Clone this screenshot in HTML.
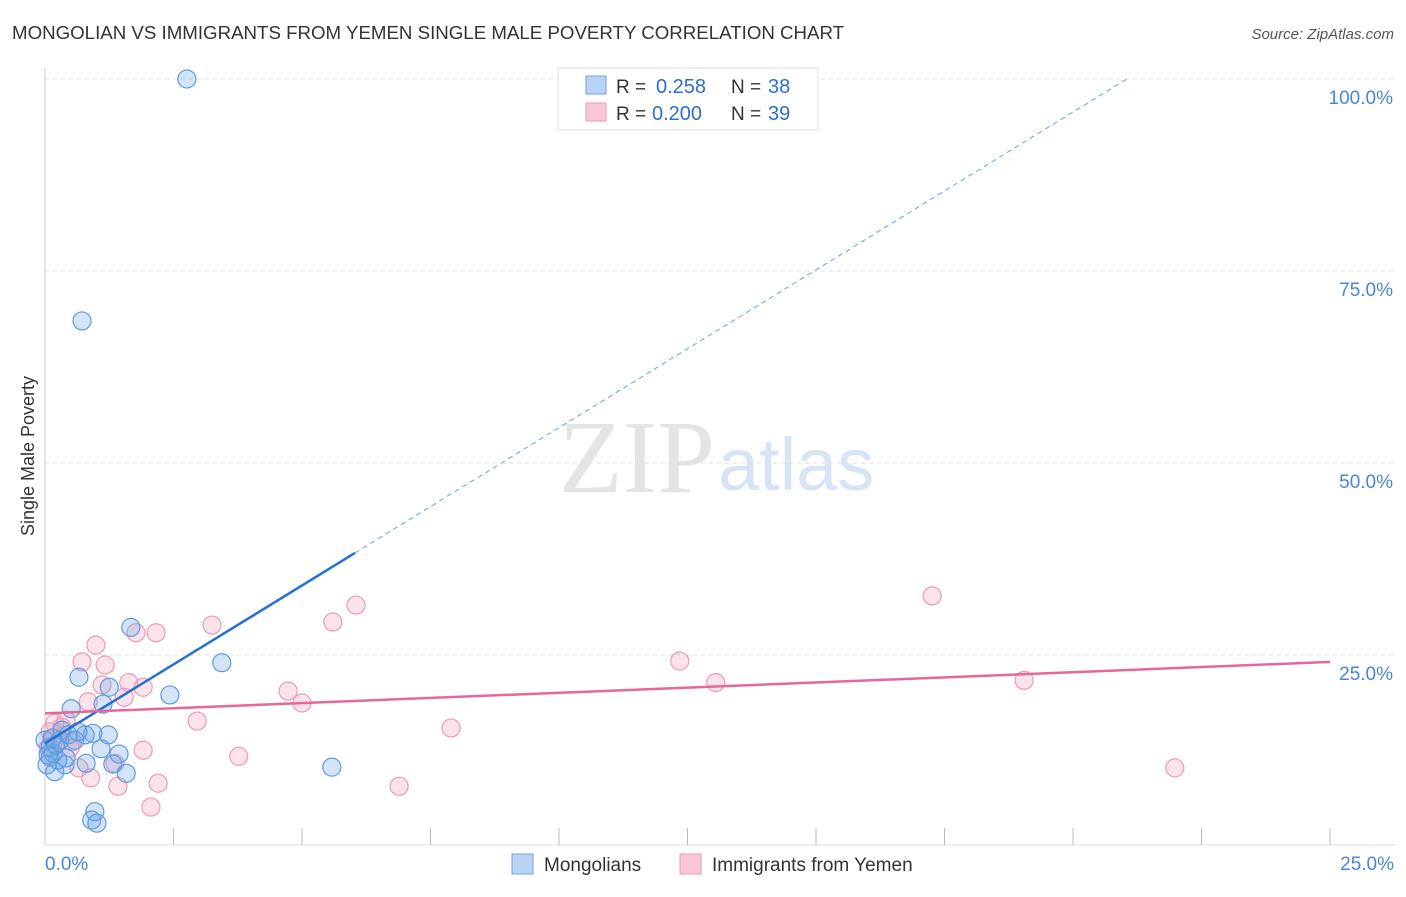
<!DOCTYPE html>
<html><head><meta charset="utf-8"><style>
body{margin:0;background:#fff;font-family:"Liberation Sans",sans-serif}
</style></head><body>
<svg width="1406" height="892" xmlns="http://www.w3.org/2000/svg" style="font-family:'Liberation Sans',sans-serif">
<text x="12" y="39" font-size="18.7" fill="#333">MONGOLIAN VS IMMIGRANTS FROM YEMEN SINGLE MALE POVERTY CORRELATION CHART</text>
<text x="1394" y="39" font-size="15" fill="#555" text-anchor="end" font-style="italic">Source: ZipAtlas.com</text>
<text x="715" y="492" font-size="104" fill="#e4e4e4" text-anchor="end" font-family="Liberation Serif">ZIP</text>
<text x="718" y="490" font-size="74" fill="#d6e4f5">atlas</text>
<text transform="translate(34,456) rotate(-90)" font-size="18" fill="#333" text-anchor="middle">Single Male Poverty</text>
<g id="grid"></g><g id="pts"></g><g id="lines"></g>
<g>
<rect x="558" y="68" width="260" height="62" fill="#fff" stroke="#ddd"/>
<rect x="586" y="76" width="20" height="18" fill="#b8d3f5" stroke="#6fa3e0"/>
<text x="616" y="93" font-size="19" fill="#333">R =</text>
<text x="656" y="93" font-size="20" fill="#2b6fd0">0.258</text>
<text x="731" y="93" font-size="19" fill="#333">N =</text>
<text x="768" y="93" font-size="20" fill="#2b6fd0">38</text>
<rect x="586" y="103" width="20" height="18" fill="#f9c7d6" stroke="#ea98b3"/>
<text x="616" y="120" font-size="19" fill="#333">R =</text>
<text x="652" y="120" font-size="20" fill="#2b6fd0">0.200</text>
<text x="731" y="120" font-size="19" fill="#333">N =</text>
<text x="768" y="120" font-size="20" fill="#2b6fd0">39</text>
</g>
<g>
<rect x="512" y="854" width="21" height="20" fill="#b8d3f5" stroke="#6fa3e0"/>
<text x="544" y="871" font-size="19" fill="#333">Mongolians</text>
<rect x="680" y="854" width="21" height="20" fill="#f9c7d6" stroke="#ea98b3"/>
<text x="712" y="871" font-size="19" fill="#333">Immigrants from Yemen</text>
</g>
</svg>
<script>
const mongX=[2.76,0.72,1.67,0.66,1.25,2.43,1.13,0.51,3.44,1.23,0.93,0.78,0.64,1.09,1.44,0.80,1.32,1.58,0.19,0.39,0.16,0.10,0.29,0.33,5.58,0.97,0.91,1.01,0.10,0.25,0.06,0.41,0.21,0.00,0.45,0.04,0.58,0.14];
const mongY=[100,68.5,28.6,22.1,20.8,19.8,18.6,18.0,24.0,14.6,14.8,14.6,15.0,12.8,12.1,10.9,10.8,9.6,9.8,10.7,12.2,13.0,13.9,15.2,10.4,4.6,3.5,3.1,11.7,11.3,12.0,11.6,13.3,13.9,14.6,10.7,13.9,14.2];
const yemX=[1.77,2.16,3.25,5.60,6.05,0.99,0.72,1.17,1.11,1.63,1.91,1.54,0.84,4.73,5.00,2.96,3.77,1.91,1.36,0.66,0.89,1.42,2.20,2.06,0.53,0.19,0.33,0.16,7.90,6.89,12.35,13.05,17.26,19.05,21.98,0.06,0.41,0.49,0.10];
const yemY=[27.9,27.9,28.9,29.3,31.5,26.3,24.1,23.7,21.1,21.4,20.8,19.5,18.9,20.3,18.75,16.4,11.8,12.6,10.9,10.3,9.0,7.9,8.3,5.2,13.7,16.1,15.6,14.2,15.5,7.9,24.2,21.4,32.7,21.7,10.3,12.9,16.5,12.9,15.0];
const yTicks=[25,50,75,100];
const yTickLabels=["25.0%","50.0%","75.0%","100.0%"];
const xTicks=[2.5,5,7.5,10,12.5,15,17.5,20,22.5,25];
const mongTrend=[13.5,4.11];
const yemTrend=[17.4,0.268];
const NS="http://www.w3.org/2000/svg";
const sx=v=>45+v*51.4, sy=v=>847-v*7.68;
function mk(t,a,p){const e=document.createElementNS(NS,t);for(const k in a)e.setAttribute(k,a[k]);p.appendChild(e);return e;}
const g=document.getElementById('grid');
mk('line',{x1:45,y1:68,x2:45,y2:845,stroke:'#ccc'},g);
mk('line',{x1:45,y1:845,x2:1395,y2:845,stroke:'#ddd'},g);
yTicks.forEach((v,i)=>{
 const l=mk('line',{x1:45,y1:sy(v),x2:1395,y2:sy(v),stroke:'#ddd','stroke-dasharray':'4,4'},g);
 
 
 const t=mk('text',{x:1393,y:sy(v)+25,'font-size':19,fill:'#4a86d8','text-anchor':'end'},g);
 t.textContent=yTickLabels[i];
 
 
});
xTicks.forEach(v=>{
 const l=mk('line',{x1:sx(v),y1:828,x2:sx(v),y2:845,stroke:'#bbb'},g);
 
 
});
let t=mk('text',{x:45,y:870,'font-size':19,fill:'#4a86d8'},g);t.textContent="0.0%";


t=mk('text',{x:1394,y:870,'font-size':19,fill:'#4a86d8','text-anchor':'end'},g);t.textContent="25.0%";


const p=document.getElementById('pts');
yemX.forEach((x,i)=>{const c=mk('circle',{cx:sx(x),cy:sy(yemY[i]),r:9,fill:'rgba(244,160,188,0.3)',stroke:'#eb9ab5','stroke-width':1.2},p);
 
 });
mongX.forEach((x,i)=>{const c=mk('circle',{cx:sx(x),cy:sy(mongY[i]),r:9,fill:'rgba(110,165,230,0.3)',stroke:'#5e9ae0','stroke-width':1.2},p);
 
 });
const L=document.getElementById('lines');
const f=x=>mongTrend[0]+mongTrend[1]*x;
const xEnd=(100-mongTrend[0])/mongTrend[1];
let ln=mk('line',{x1:sx(6.03),y1:sy(f(6.03)),x2:sx(xEnd),y2:sy(100),stroke:'#6aa0e0','stroke-width':1,'stroke-dasharray':'5,4'},L);


ln=mk('line',{x1:sx(0),y1:sy(f(0)),x2:sx(6.03),y2:sy(f(6.03)),stroke:'#2470d4','stroke-width':2.5},L);


ln=mk('line',{x1:sx(0),y1:sy(yemTrend[0]),x2:sx(25),y2:sy(yemTrend[0]+yemTrend[1]*25),stroke:'#e8679a','stroke-width':2.5},L);


</script>
</body></html>
